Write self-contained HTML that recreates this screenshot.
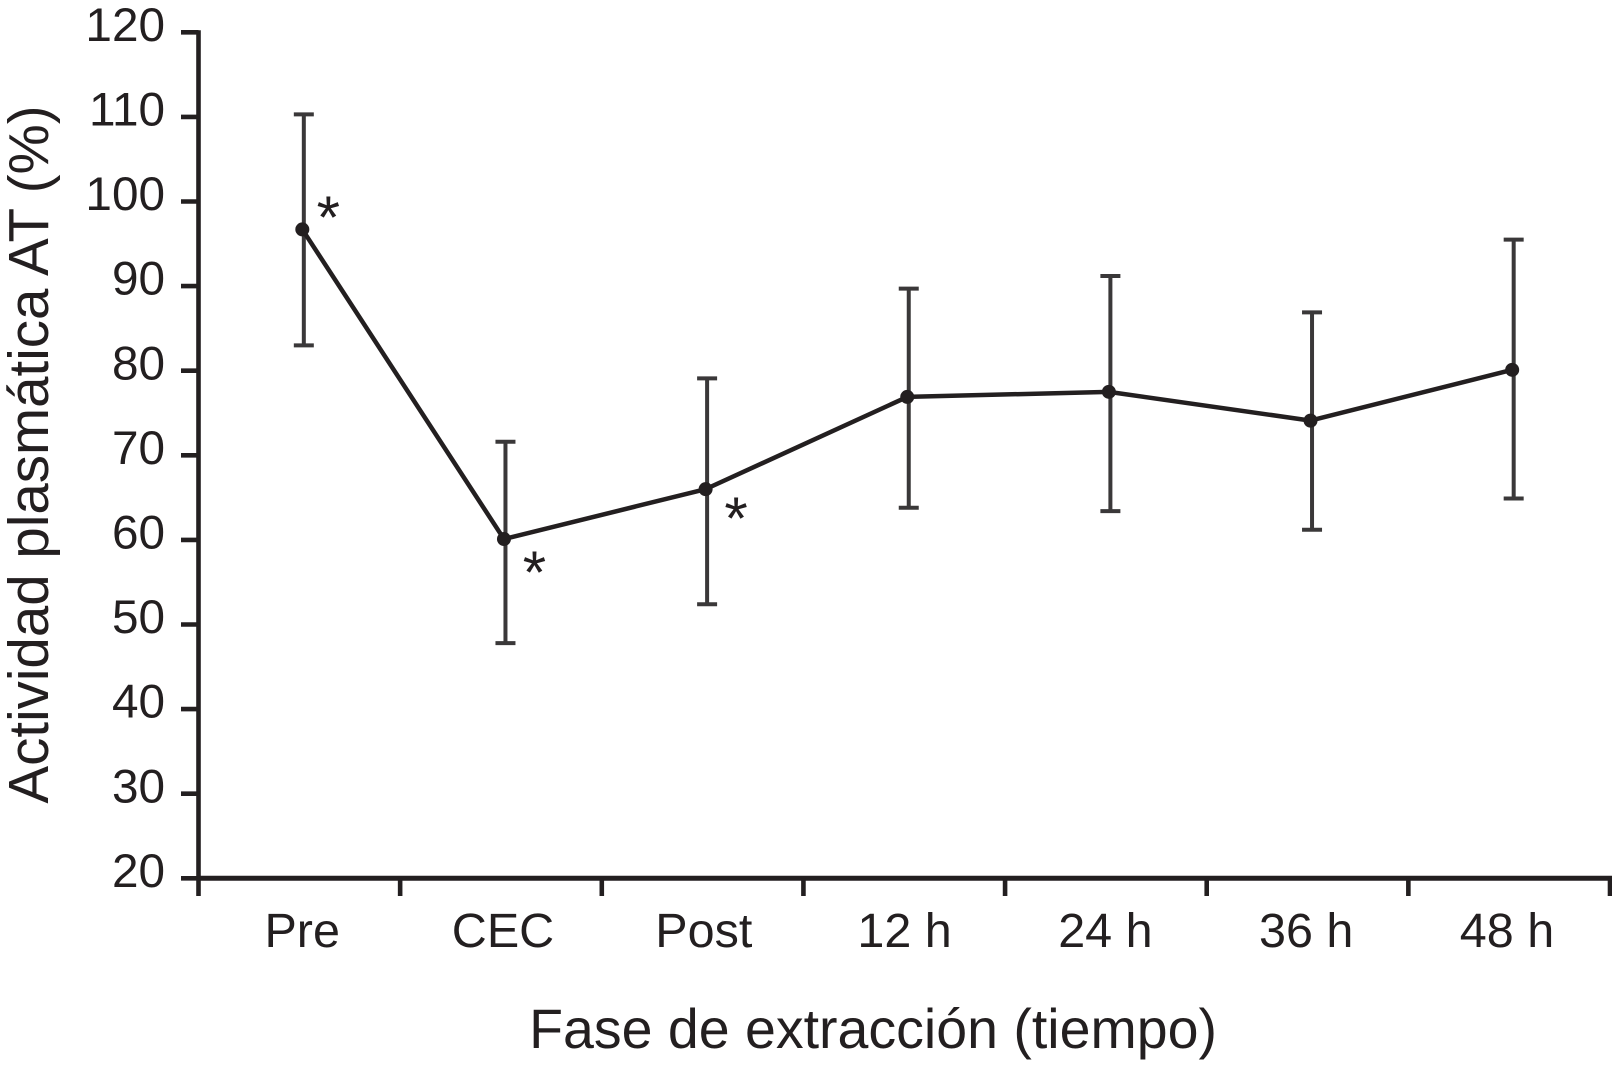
<!DOCTYPE html>
<html lang="es">
<head>
<meta charset="utf-8">
<title>Actividad plasmática AT</title>
<style>
html,body{margin:0;padding:0;background:#fff;}
svg{display:block;}
text{font-family:"Liberation Sans",Arial,sans-serif;fill:#231f20;}
</style>
</head>
<body>
<svg id="chart" xmlns="http://www.w3.org/2000/svg" width="1612" height="1073" viewBox="0 0 1612 1073"></svg>
<script>
const categories = ["Pre", "CEC", "Post", "12 h", "24 h", "36 h", "48 h"];
const yTicks = [20, 30, 40, 50, 60, 70, 80, 90, 100, 110, 120];
const means = [96.7, 60.1, 66, 76.9, 77.5, 74.1, 80.1];
const upper = [110.3, 71.6, 79.1, 89.7, 91.2, 86.9, 95.5];
const lower = [83, 47.8, 52.4, 63.8, 63.4, 61.2, 64.9];
const significant = ["above", "below", "below", null, null, null, null];

const INK = "#231f20";
const svg = document.getElementById("chart");
const NS = "http://www.w3.org/2000/svg";
const axisLeft = 198.5, axisRight = 1610, axisBottom = 878.3, pxPer10 = 84.6;
const y = v => axisBottom - (v - yTicks[0]) * pxPer10 / 10;
const band = (axisRight - axisLeft) / categories.length;
const x = i => axisLeft + band * (i + 0.5) + 3;
const labelX = i => 302.2 + i * 200.8;

function add(tag, attrs, text) {
  const el = document.createElementNS(NS, tag);
  for (const k in attrs) el.setAttribute(k, attrs[k]);
  if (text !== undefined) el.textContent = text;
  svg.appendChild(el);
  return el;
}
function line(x1, y1, x2, y2, stroke, width) {
  return add("line", { x1, y1, x2, y2, stroke, "stroke-width": width });
}

// Y axis
let el = line(axisLeft, y(120) - 2, axisLeft, 896, INK, 4.6);



yTicks.forEach(v => {
  const t = line(181, y(v), axisLeft, y(v), INK, 4.6);
  
  
  const l = add("text", { x: 165, y: y(v) + 8.6, "text-anchor": "end", "font-size": 47.7 }, v);
  
  
});

// X axis
el = line(axisLeft, axisBottom, axisRight + 2, axisBottom, INK, 5);



for (let i = 1; i <= categories.length; i++) {
  const tx = axisLeft + band * i;
  const t = line(tx, axisBottom, tx, 896, INK, 4.6);
  
  
}
categories.forEach((c, i) => {
  const l = add("text", { x: labelX(i), y: 947, "text-anchor": "middle", "font-size": 48.5 }, c);
  
  
});

// Error bars
categories.forEach((c, i) => {
  const bx = x(i) + 1.5;
  const s = line(bx, y(upper[i]), bx, y(lower[i]), "#3a3839", 4);
  
  
  const capTop = line(bx - 10, y(upper[i]), bx + 10, y(upper[i]), "#3a3839", 4);
  
  
  const capBottom = line(bx - 10, y(lower[i]), bx + 10, y(lower[i]), "#3a3839", 4);
  
  
});

// Mean line
const meanLine = add("polyline", {
  points: means.map((m, i) => x(i) + "," + y(m)).join(" "),
  fill: "none", stroke: INK, "stroke-width": 4.5, "stroke-linejoin": "round"
});



// Points
means.forEach((m, i) => {
  const p = add("circle", { cx: x(i), cy: y(m), r: 7, fill: INK });
  
  
});

// Significance stars
significant.forEach((side, i) => {
  if (!side) return;
  const dy = side === "above" ? 8.8 : (i === 1 ? 54 : 50);
  const dx = side === "above" ? 26 : 30.5;
  const s = add("text", { x: x(i) + dx, y: y(means[i]) + dy, "text-anchor": "middle", "font-size": 60 }, "*");
  
  
});

// Axis titles
const xTitle = add("text", { x: 873, y: 1048, "text-anchor": "middle", "font-size": 55.5 }, "Fase de extracción (tiempo)");



const yTitle = add("text", { transform: "translate(48 454.5) rotate(-90)", "text-anchor": "middle", "font-size": 56.5 }, "Actividad plasmática AT (%)");


</script>
</body>
</html>
